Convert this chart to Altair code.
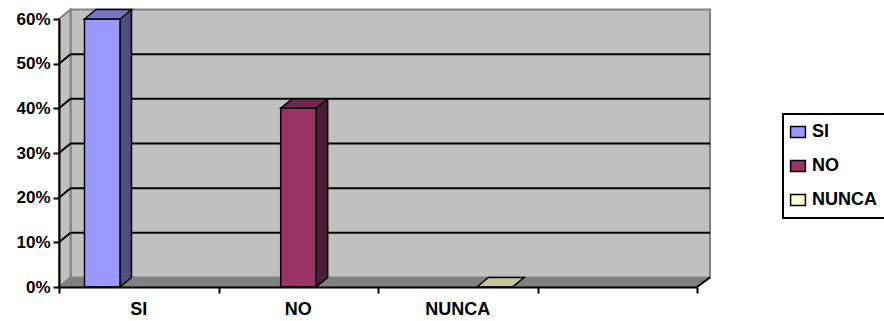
import altair as alt
import pandas as pd

# ---------------- data ----------------
categories = ["SI", "NO", "NUNCA"]
values = [0.60, 0.40, 0.00]
y_ticks = [0.0, 0.1, 0.2, 0.3, 0.4, 0.5, 0.6]
grid_values = [0.1, 0.2, 0.3, 0.4, 0.5]

front_colors = ["#9999FF", "#993366", "#FFFFCC"]
side_colors = ["#4D4D80", "#4D1A33", "#808066"]
top_colors = ["#7676C2", "#73264D", "#C6C69E"]

# ---------------- layout ----------------
W, H = 638, 268
N_SLOTS = 4
SLOT_PX = W / N_SLOTS
GROUP_OFF = 25.5 / SLOT_PX
SUB_STEP = 36.7 / SLOT_PX
BAR_W_PX = 35.5
BAR_W = BAR_W_PX / SLOT_PX
DX, DY = 11.5, -9.5
WALL_RIGHT = 13

LABEL_FONT = "Liberation Sans, Arial, sans-serif"

bars_df = pd.DataFrame({
    "category": categories,
    "series": categories,
    "value": values,
    "cat_idx": list(range(len(categories))),
    "ser_idx": list(range(len(categories))),
})
labels_df = pd.DataFrame({"category": categories, "cat_idx": list(range(len(categories)))})
grid_df = pd.DataFrame({"v": grid_values})
one = alt.Data(values=[{"k": 1}])

xscale = alt.Scale(domain=[0, N_SLOTS], nice=False, zero=False)
yscale = alt.Scale(domain=[0, 0.6], nice=False, zero=True)

xaxis = alt.Axis(values=list(range(N_SLOTS + 1)), labels=False, tickSize=6, tickWidth=2,
                 domainWidth=2, grid=False, title=None, zindex=1)
yaxis = alt.Axis(values=y_ticks, format=".0%", labelFont=LABEL_FONT, labelFontWeight="bold",
                 labelFontSize=17, tickSize=6, tickWidth=2, domainWidth=2, labelPadding=3,
                 grid=False, title=None, zindex=1)


def X(f):
    return alt.X(f, scale=xscale, axis=xaxis)


def Y(f):
    return alt.Y(f, scale=yscale, axis=yaxis)


SQ_PATH = "M-1.35,-1L1.35,-1L1.35,1L-1.35,1Z"
legend = alt.Legend(title=None, orient="none", legendX=724, legendY=95, padding=9,
                    strokeColor="black", fillColor="white", symbolType=SQ_PATH,
                    symbolSize=121, symbolStrokeColor="black", symbolStrokeWidth=1.5,
                    symbolOpacity=1, symbolOffset=-3, labelFont=LABEL_FONT, labelFontSize=18,
                    labelFontWeight="bold", labelOffset=5, rowPadding=16, labelColor="black")

calc = dict(
    xl=f"datum.cat_idx + {GROUP_OFF} + datum.ser_idx * {SUB_STEP}",
    xr=f"datum.cat_idx + {GROUP_OFF} + datum.ser_idx * {SUB_STEP} + {BAR_W}",
)

# back wall
wall = alt.Chart(one).mark_rect(fill="#C0C0C0", stroke="#808080", strokeWidth=2,
                                yOffset=DY, y2Offset=DY).encode(
    x=alt.value(DX), x2=alt.value(W + WALL_RIGHT), y=alt.datum(0.6), y2=alt.datum(0))

floor_path = f"M0,0L{W},0L{W + WALL_RIGHT},{DY}L{DX},{DY}Z"
floor = alt.Chart(one).mark_point(shape=floor_path, size=4, filled=True, fill="#808080",
                                  strokeWidth=0, opacity=1).encode(
    x=alt.value(0), y=alt.datum(0))

left_path = f"M0,0L0,{-H}L{DX},{-H + DY}L{DX},{DY}Z"
left_wall = alt.Chart(one).mark_point(shape=left_path, size=4, filled=True, fill="#C0C0C0",
                                      stroke="#808080", strokeWidth=2, opacity=1).encode(
    x=alt.value(0), y=alt.datum(0))

grid = alt.Chart(grid_df).mark_rule(color="black", strokeWidth=2, yOffset=DY).encode(
    y=Y("v:Q"), x=alt.value(DX), x2=alt.value(W + WALL_RIGHT))

diag = alt.Chart(grid_df).mark_rule(color="black", strokeWidth=2, y2Offset=DY).encode(
    y=Y("v:Q"), y2="v:Q", x=alt.value(0), x2=alt.value(DX))

right_diag = alt.Chart(one).mark_rule(color="black", strokeWidth=2, y2Offset=DY).encode(
    x=alt.value(W), x2=alt.value(W + WALL_RIGHT), y=alt.datum(0), y2=alt.datum(0))

base = alt.Chart(bars_df).transform_calculate(**calc)

side = base.mark_rect(x2Offset=DX, yOffset=DY, y2Offset=DY, strokeWidth=0).encode(
    x=X("xr:Q"), x2="xr:Q", y=Y("value:Q"), y2=alt.datum(0),
    fill=alt.Fill("series:N", scale=alt.Scale(domain=categories, range=side_colors), legend=None))

side_edge = base.mark_rule(xOffset=DX, yOffset=DY, y2Offset=DY, color="black",
                           strokeWidth=1.5).encode(
    x=X("xr:Q"), y=Y("value:Q"), y2=alt.datum(0))

tri_path = f"M0,{DY}L0,0L{DX},{DY}"
side_bottom = base.mark_point(shape=tri_path, size=4, filled=True, stroke="black",
                              strokeWidth=1.5, opacity=1).encode(
    x=X("xl:Q"), y=Y("value:Q"),
    fill=alt.Fill("series:N", scale=alt.Scale(domain=categories, range=side_colors), legend=None)
).transform_calculate(xl="datum.xr", value="0")

front = base.mark_rect(stroke="black", strokeWidth=1.5).encode(
    x=X("xl:Q"), x2="xr:Q", y=Y("value:Q"), y2=alt.datum(0),
    color=alt.Color("series:N", scale=alt.Scale(domain=categories, range=front_colors),
                    legend=legend, sort=categories))

top_path = f"M0,0L{BAR_W_PX},0L{BAR_W_PX + DX},{DY}L{DX},{DY}Z"
top = base.mark_point(shape=top_path, size=4, filled=True, stroke="black",
                      strokeWidth=1.5, opacity=1).encode(
    x=X("xl:Q"), y=Y("value:Q"),
    fill=alt.Fill("series:N", scale=alt.Scale(domain=categories, range=top_colors), legend=None))

xlabels = alt.Chart(labels_df).transform_calculate(xc="datum.cat_idx + 0.5").mark_text(
    font=LABEL_FONT, fontSize=18, fontWeight="bold", baseline="middle", color="black").encode(
    x=X("xc:Q"), y=alt.value(H + 23), text="category:N")

chart = alt.layer(
    wall, floor, left_wall, grid, diag, right_diag,
    side, side_edge, side_bottom, front, top, xlabels
).resolve_scale(fill="independent").properties(
    width=W, height=H,
    autosize=alt.AutoSizeParams(type="none"),
    padding={"left": 59, "top": 19, "right": 187, "bottom": 34},
    background="white",
).configure_view(stroke=None).configure_axis(
    domainColor="black", tickColor="black", labelColor="black"
).configure_legend(strokeWidth=2)

chart.save("out.html", embed_options={"renderer": "svg", "actions": False})
